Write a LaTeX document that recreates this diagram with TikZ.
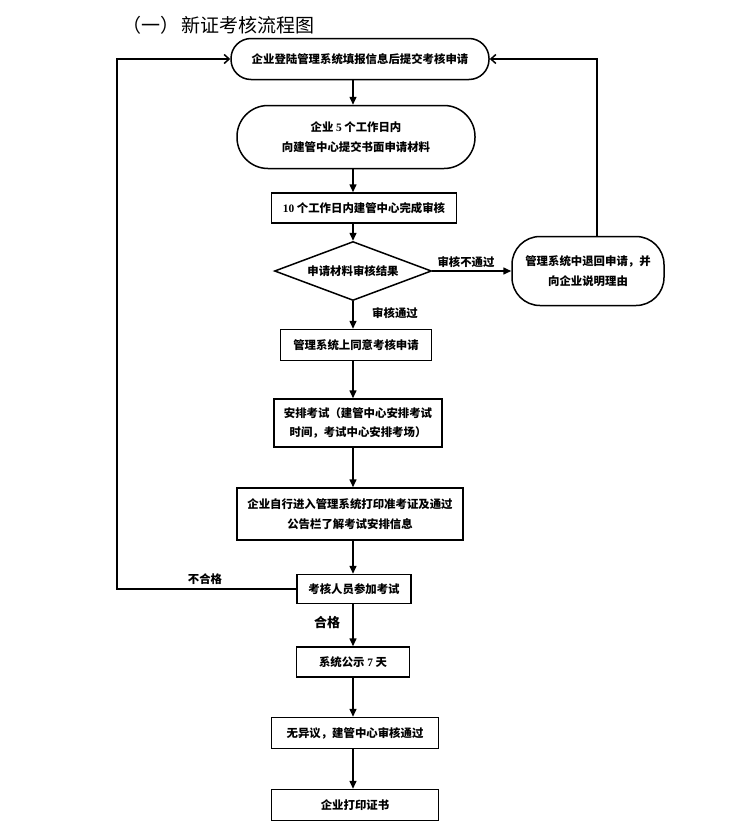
\documentclass[tikz,border=0pt]{standalone}
\usepackage{fontspec}
\setmainfont{Noto Sans CJK SC}
\newfontfamily\numfont{Liberation Serif}
\usetikzlibrary{shapes.geometric,arrows.meta}

\begin{document}
\begin{tikzpicture}[x=1pt,y=-1pt,line width=1.5pt,
    box/.style={rectangle, draw, text centered, align=center},
    stadium/.style={rectangle, draw, text centered, align=center},
    down/.style={-{Triangle[length=8pt,width=7pt]}},
    back/.style={-{Straight Barb[length=5pt,width=9pt]}}]
  \tikzstyle{every node}=[font=\fontsize{11.4}{19.5}\selectfont\bfseries]
  \useasboundingbox (0,0) rectangle (750,830);

  % Title
  \node (title) [anchor=west, font=\fontsize{19}{19}\selectfont] at (118,25)
        {（一）\hspace{2pt}新证考核流程图};

  % Main boxes
  \node (apply) [stadium, rounded corners=20pt, minimum width=258pt, minimum height=41pt]
        at (360,59) {企业登陆管理系统填报信息后提交考核申请};
  \node (submit) [stadium, rounded corners=31pt, minimum width=238pt, minimum height=63pt]
        at (356,137) {企业 {\numfont 5} 个工作日内\\向建管中心提交书面申请材料};
  \node (review) [box, minimum width=185pt, minimum height=30pt]
        at (364,208) {{\numfont 10} 个工作日内建管中心完成审核};
  \node (result) [diamond, draw, aspect=2.66, inner sep=1pt, minimum width=157pt,
        minimum height=59pt] at (353,271) {申请材料审核结果};
  \node (reject) [stadium, rounded corners=28pt, minimum width=152pt, minimum height=69pt]
        at (588,271) {管理系统中退回申请，并\\向企业说明理由};
  \node (agree) [box, minimum width=151pt, minimum height=31pt]
        at (356,345) {管理系统上同意考核申请};
  \node (arrange) [box, minimum width=168pt, minimum height=48pt]
        at (358,423) {安排考试（建管中心安排考试\\时间，考试中心安排考场）};
  \node (print) [box, minimum width=226pt, minimum height=52pt]
        at (350,514) {企业自行进入管理系统打印准考证及通过\\公告栏了解考试安排信息};
  \node (exam) [box, minimum width=114pt, minimum height=29pt]
        at (354,589) {考核人员参加考试};
  \node (publish) [box, minimum width=113pt, minimum height=30pt]
        at (353,662) {系统公示 {\numfont 7} 天};
  \node (pass) [box, minimum width=167pt, minimum height=31pt]
        at (355,733) {无异议，建管中心审核通过};
  \node (cert) [box, minimum width=167pt, minimum height=31pt]
        at (355,805) {企业打印证书};

  % Labels
  \node (nopass) at (466,262) {审核不通过};
  \node (ok) at (395,313) {审核通过};
  \node (fail) at (205,579) {不合格};
  \node (qualified) [font=\fontsize{13}{13}\selectfont\bfseries] at (327,623) {合格};

  \coordinate (spine) at (353,0);
  \coordinate (loop) at (117,0);

  % Arrows
  \draw[down] (apply.south -| spine) -- (submit.north -| spine);
  \draw[down] (submit.south -| spine) -- (review.north -| spine);
  \draw[down] (review.south -| spine) -- (result.north);
  \draw[down] (result.south) -- (agree.north -| spine);
  \draw[down] (result.east) -- (reject.west);
  \draw[down] (agree.south -| spine) -- (arrange.north -| spine);
  \draw[down] (arrange.south -| spine) -- (print.north -| spine);
  \draw[down] (print.south -| spine) -- (exam.north -| spine);
  \draw[down] (exam.south -| spine) -- (publish.north -| spine);
  \draw[down] (publish.south -| spine) -- (pass.north -| spine);
  \draw[down] (pass.south -| spine) -- (cert.north -| spine);
  \draw[back] ([xshift=9pt]reject.north) |- (apply.east);
  \draw[back] (exam.west) -- (exam.west -| loop) |- (apply.west);
\end{tikzpicture}
\end{document}
